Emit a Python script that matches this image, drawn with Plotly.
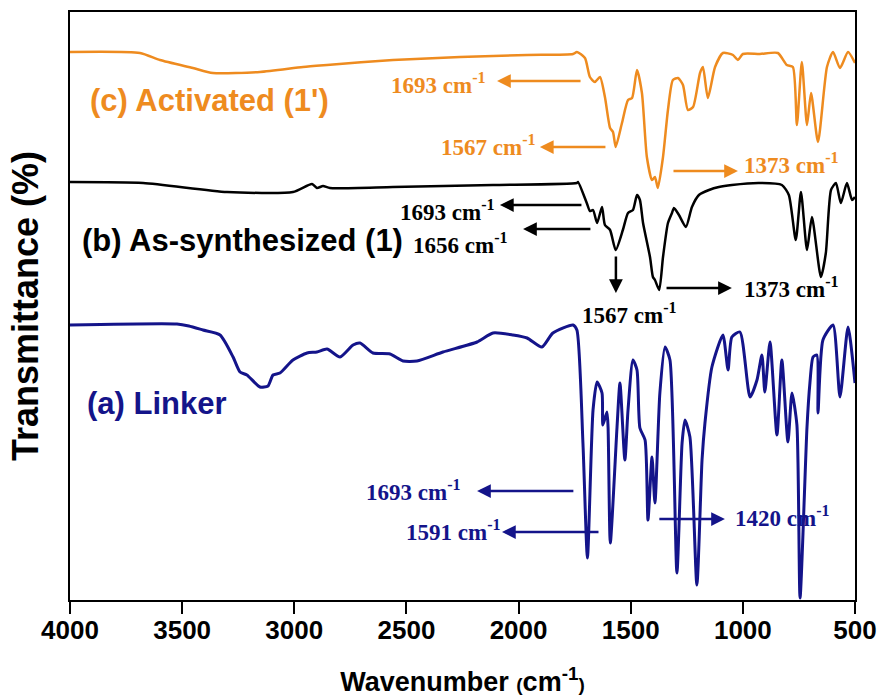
import plotly.graph_objects as go

# ---- spectra (wavenumber in cm^-1, stacked transmittance in arbitrary offset units) ----
linker_wn = [4000, 3523, 3470, 3407, 3331, 3273, 3242, 3211, 3153, 3117, 3095, 3064, 3006, 2943,
             2899, 2854, 2796, 2738, 2707, 2649, 2573, 2515, 2453, 2337, 2185, 2114, 2025,
             1962, 1896, 1847, 1757, 1740, 1713, 1693, 1668, 1650, 1628, 1624, 1606, 1601,
             1591, 1561, 1548, 1526, 1512, 1490, 1472, 1459, 1436, 1423, 1405, 1392, 1370,
             1347, 1325, 1294, 1271, 1258, 1236, 1205, 1182, 1169, 1138, 1089, 1066, 1049,
             1013, 968, 937, 915, 902, 879, 848, 826, 799, 781, 759, 745, 714, 701, 687,
             670, 665, 643, 598, 567, 531, 500]
linker_t = [275, 276, 274, 270, 265, 243, 228, 225, 213, 214, 225, 227, 240, 247,
            248, 251, 243, 255, 257, 247, 246, 239, 239, 248, 258, 267, 265,
            262, 253, 267, 275, 270, 157, 42, 190, 218, 207, 175, 188, 173,
            57, 173, 217, 140, 190, 240, 230, 172, 160, 80, 143, 97, 207,
            253, 240, 27, 157, 180, 163, 15, 140, 177, 233, 265, 230, 263,
            268, 203, 220, 245, 208, 258, 165, 240, 158, 207, 175, 2, 173, 217, 243,
            245, 187, 260, 275, 203, 273, 217]

assyn_wn = [4000, 3674, 3300, 3006, 2921, 2899, 2872, 2841, 2560, 2114, 1740, 1735, 1696,
            1682, 1668, 1650, 1628, 1615, 1592, 1567, 1535, 1512, 1490, 1472, 1459, 1445,
            1414, 1401, 1392, 1373, 1356, 1334, 1316, 1307, 1285, 1254, 1227, 1196, 1151,
            1107, 1049, 929, 826, 795, 764, 741, 714, 692, 652, 630, 607, 585, 563, 536,
            513, 500]
assyn_t = [418, 417, 408, 408, 416, 412, 414, 412, 413, 415, 417, 418, 397,
           389, 390, 377, 393, 375, 370, 350, 370, 387, 390, 405, 400, 377,
           343, 323, 320, 310, 343, 377, 387, 392, 385, 373, 393, 405, 410,
           413, 415, 417, 415, 405, 360, 408, 350, 383, 323, 347, 410, 417, 397, 417,
           400, 403]

activ_wn = [4000, 3688, 3599, 3452, 3363, 3153, 2961, 2854, 2560, 2261, 1962, 1757, 1740,
            1704, 1682, 1660, 1637, 1615, 1592, 1579, 1567, 1539, 1512, 1494, 1472, 1450,
            1428, 1405, 1392, 1379, 1356, 1334, 1312, 1289, 1267, 1245, 1222, 1191, 1178,
            1156, 1124, 1089, 1044, 1022, 1000, 924, 844, 804, 777, 759, 737, 714, 696,
            665, 625, 598, 567, 531, 500]
activ_t = [548, 547, 540, 532, 527, 528, 533, 535, 540, 543, 545, 546, 548,
           542, 523, 518, 523, 503, 472, 468, 453, 477, 500, 502, 530, 507,
           443, 420, 423, 412, 443, 490, 520, 522, 515, 490, 493, 527, 533,
           502, 533, 547, 545, 540, 546, 546, 547, 535, 533, 475, 538, 475, 507,
           458, 533, 548, 532, 548, 537]

# ---- band labels: (text, colour, arrow head wn, arrow tail wn, head y, tail y, label wn, label y, anchor) ----
ORANGE = "#EE8B1F"
NAVY = "#14148A"
BLACK = "#000000"

bands = [
    ("1693", ORANGE, 2096, 1717, 519, 519, 2136, 517, "right"),
    ("1567", ORANGE, 1905, 1606, 453, 453, 1914, 455, "right"),
    ("1373", ORANGE, 1022, 1316, 429, 429, 1004, 437, "left"),
    ("1693", BLACK, 2083, 1713, 395, 395, 2096, 390, "right"),
    ("1656", BLACK, 1980, 1673, 371, 371, 2038, 357, "right"),
    ("1567", BLACK, 1566, 1566, 307, 345, 1726, 287, "left"),
    ("1373", BLACK, 1049, 1347, 312, 312, 1004, 313, "left"),
    ("1693", NAVY, 2185, 1749, 109, 109, 2248, 110, "right"),
    ("1591", NAVY, 2074, 1637, 68, 68, 2070, 70, "right"),
    ("1420", NAVY, 1080, 1379, 81, 81, 1044, 84, "left"),
]

series_labels = [
    ("(c) Activated (1')", ORANGE, 3920, 500),
    ("(b) As-synthesized (1)", BLACK, 3955, 360),
    ("(a) Linker", NAVY, 3933, 197),
]

fig = go.Figure()
for wn, t, col, w in [(linker_wn, linker_t, NAVY, 3),
                      (assyn_wn, assyn_t, BLACK, 2.5),
                      (activ_wn, activ_t, ORANGE, 2.5)]:
    fig.add_trace(go.Scatter(x=wn, y=t, mode="lines",
                             line=dict(color=col, width=w, shape="spline",
                                       smoothing=0.6),
                             showlegend=False, hoverinfo="skip"))

annotations = []
for num, col, hx, tx, hy, ty, lx, ly, anc in bands:
    annotations.append(dict(x=hx, y=hy, ax=tx, ay=ty, xref="x", yref="y",
                            axref="x", ayref="y", text="", showarrow=True,
                            arrowhead=2, arrowsize=1.1, arrowwidth=2.5,
                            arrowcolor=col))
    annotations.append(dict(x=lx, y=ly, xref="x", yref="y", showarrow=False,
                            text=f"{num} cm<sup>-1</sup>", xanchor=anc,
                            yanchor="middle",
                            font=dict(family="Liberation Serif", size=23,
                                      color=col, weight="bold")))
for txt, col, lx, ly in series_labels:
    annotations.append(dict(x=lx, y=ly, xref="x", yref="y", showarrow=False,
                            text=txt, xanchor="left", yanchor="middle",
                            font=dict(family="Liberation Sans", size=31,
                                      color=col, weight="bold")))

fig.update_layout(
    width=885, height=700,
    margin=dict(l=70, r=30, t=12, b=100),
    paper_bgcolor="white", plot_bgcolor="white",
    annotations=annotations,
    xaxis=dict(range=[4000, 500], tickmode="array",
               tickvals=[4000, 3500, 3000, 2500, 2000, 1500, 1000, 500],
               ticks="outside", ticklen=12, tickwidth=2, tickcolor="black",
               ticklabelstandoff=-6,
               showline=True, linecolor="black", linewidth=2, mirror=True,
               showgrid=False, zeroline=False, automargin=False,
               tickfont=dict(family="Liberation Sans", size=26,
                             color="black", weight="bold"),
               title=dict(text="Wavenumber <span style='font-size:19px'>(</span>cm<sup>-1</sup><span style='font-size:19px'>)</span>",
                          font=dict(family="Liberation Sans", size=27,
                                    color="black", weight="bold"),
                          standoff=28)),
    yaxis=dict(range=[0, 588], showticklabels=False, ticks="",
               showline=True, linecolor="black", linewidth=2, mirror=True,
               showgrid=False, zeroline=False, automargin=False,
               title=dict(text="Transmittance (%)",
                          font=dict(family="Liberation Sans", size=36,
                                    color="black", weight="bold"),
                          standoff=18)),
)

fig.write_html("out.html", config={"displayModeBar": False})
